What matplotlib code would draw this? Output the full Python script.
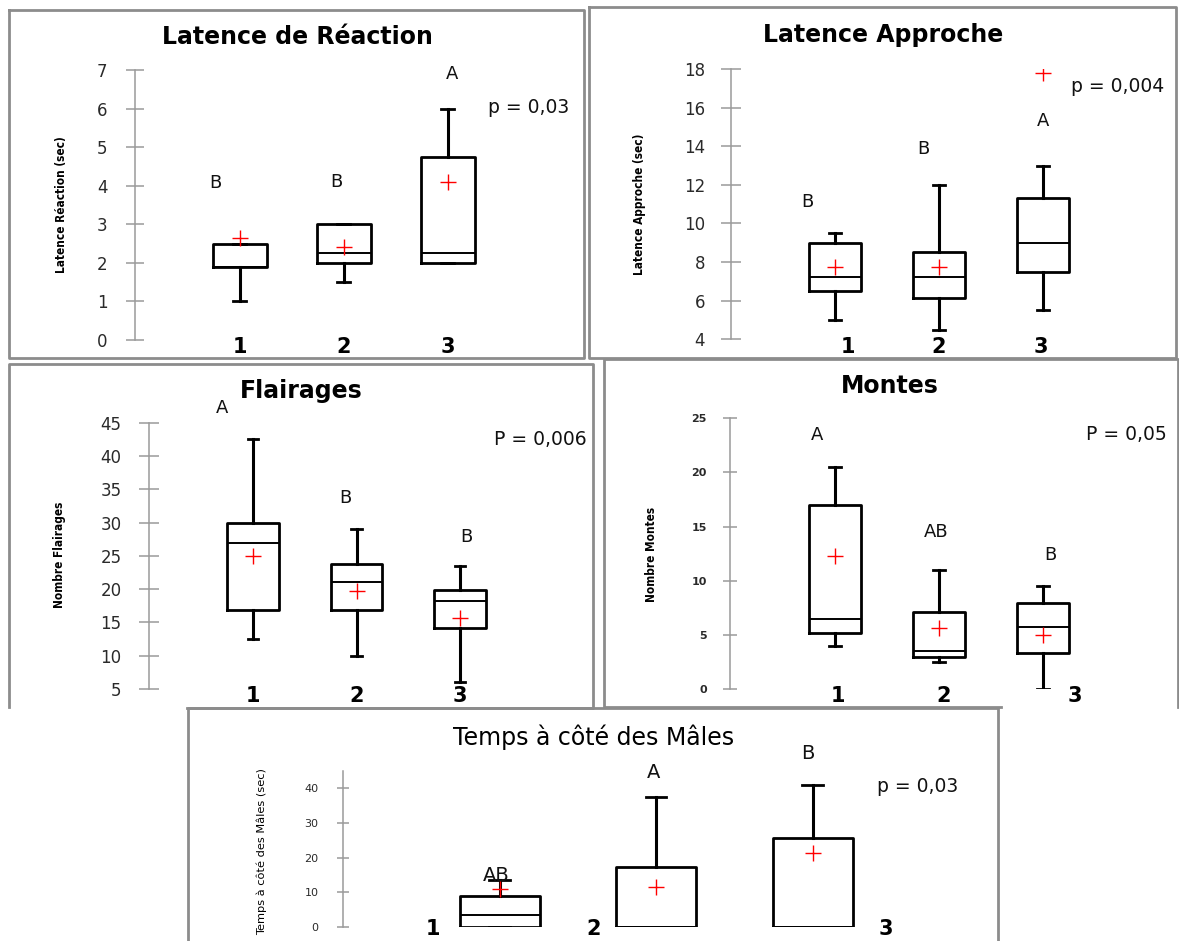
import matplotlib
matplotlib.use('Agg')
import matplotlib.pyplot as plt
from matplotlib.lines import Line2D

# ---- data ----
groups = ['1', '2', '3']

# Latence de Réaction
react_low = [1.0, 1.5, 2.0]
react_q1 = [1.9, 2.0, 2.0]
react_med = [1.9, 2.25, 2.25]
react_q3 = [2.5, 3.0, 4.75]
react_high = [2.5, 3.0, 6.0]
react_mean = [2.65, 2.4, 4.1]
react_letters = ['B', 'B', 'A']

# Latence Approche
appr_low = [5.0, 4.5, 5.5]
appr_q1 = [6.5, 6.15, 7.5]
appr_med = [7.25, 7.25, 9.0]
appr_q3 = [9.0, 8.5, 11.3]
appr_high = [9.5, 12.0, 13.0]
appr_mean = [7.75, 7.75, 17.8]
appr_letters = ['B', 'B', 'A']

# Flairages
flair_low = [12.5, 10.0, 6.0]
flair_q1 = [16.9, 16.8, 14.2]
flair_med = [27.0, 21.0, 18.2]
flair_q3 = [30.0, 23.8, 19.8]
flair_high = [42.5, 29.0, 23.5]
flair_mean = [25.0, 19.7, 15.6]
flair_letters = ['A', 'B', 'B']

# Montes
mont_low = [4.0, 2.5, 0.0]
mont_q1 = [5.2, 3.0, 3.3]
mont_med = [6.5, 3.5, 5.7]
mont_q3 = [17.0, 7.1, 7.9]
mont_high = [20.5, 11.0, 9.5]
mont_mean = [12.3, 5.6, 5.0]
mont_letters = ['A', 'AB', 'B']

# Temps à côté des Mâles
temps_low = [0.0, 0.0, 0.0]
temps_q1 = [0.0, 0.0, 0.0]
temps_med = [3.4, 0.0, 0.0]
temps_q3 = [9.0, 17.2, 25.5]
temps_high = [13.6, 37.4, 41.0]
temps_mean = [10.9, 11.6, 21.3]
temps_letters = ['AB', 'A', 'B']

W, H = 1179, 941
fig = plt.figure(figsize=(W / 100, H / 100), dpi=100)
fig.patch.set_facecolor('white')


def fx(x):
    return x / W


def fy(y):
    return 1 - y / H


def stats_of(low, q1, med, q3, high, mean):
    return [dict(whislo=a, q1=b, med=c, q3=d, whishi=e, mean=f, fliers=[])
            for a, b, c, d, e, f in zip(low, q1, med, q3, high, mean)]


def panel(stats, letters, ptext, lay):
    # axes placed from pixel geometry of the original collage
    x0, top, bottom, step = lay['axis_x'], lay['top'], lay['bottom'], lay['step']
    xmin, xmax = lay['xlim']
    width = (xmax - xmin) * step
    ax = fig.add_axes([fx(x0), fy(bottom), width / W, (bottom - top) / H])
    ax.set_facecolor('none')
    ax.bxp(stats, positions=[1, 2, 3], widths=lay['bw'], capwidths=lay['cw'],
           showmeans=True, showfliers=False, manage_ticks=False,
           boxprops=dict(color='black', lw=2),
           whiskerprops=dict(color='black', lw=2.2),
           capprops=dict(color='black', lw=2),
           medianprops=dict(color='black', lw=1.4),
           meanprops=dict(marker='+', markeredgecolor='red', markersize=12,
                          markeredgewidth=1))
    ax.set_xlim(xmin, xmax)
    ax.set_ylim(*lay['ylim'])
    ax.set_yticks(lay['yticks'])
    for s in ['top', 'right', 'bottom']:
        ax.spines[s].set_visible(False)
    ax.spines['left'].set_color('#9a9a9a')
    ax.spines['left'].set_linewidth(1.1)
    ax.tick_params(axis='y', direction='inout', length=lay['tl'], width=1.1,
                   color='#9a9a9a', labelsize=lay['ls'], labelcolor='#2a2a2a',
                   pad=lay['pad'])
    if lay.get('tick_bold'):
        for t in ax.get_yticklabels():
            t.set_fontweight('bold')
    ax.set_xticks(lay['xt'])
    ax.set_xticklabels(groups, fontweight='bold', fontsize=15)
    ax.tick_params(axis='x', length=0, pad=lay.get('xpad', -2))
    for (tx, ty), s in zip(lay['letters'], letters):
        ax.text(tx, ty, s, ha='center', va='center', fontsize=lay['lfs'],
                color='#111111', clip_on=False)
    ax.text(lay['p'][0], lay['p'][1], ptext, ha='center', va='center',
            fontsize=13.5, color='#111111', clip_on=False)
    fig.text(fx(lay['title'][0]), fy(lay['title'][1]), lay['title_txt'],
             ha='center', va='center', fontsize=lay.get('tfs', 17),
             fontweight=lay.get('tw', 'bold'))
    fig.text(fx(lay['ylab'][0]), fy(lay['ylab'][1]), lay['ylab_txt'],
             rotation=90, ha='center', va='center', fontsize=lay['yfs'],
             family='DejaVu Sans', fontstretch=lay.get('ystretch', 'condensed'),
             fontweight=lay.get('yw', 'bold'))
    return ax


panel(stats_of(react_low, react_q1, react_med, react_q3, react_high, react_mean),
      react_letters, 'p = 0,03',
      dict(axis_x=134.6, top=70, bottom=340, step=104, xlim=(-0.01, 4.3),
           ylim=(0, 7), yticks=range(0, 8), bw=0.52, cw=0.125, tl=13, pad=13,
           ls=12, xt=[1, 2, 3], lfs=13,
           letters=[(0.77, 4.08), (1.93, 4.1), (3.04, 6.9)], p=(3.78, 6.03),
           title=(297, 37), title_txt='Latence de Réaction',
           ylab=(61, 205), ylab_txt='Latence Réaction (sec)', yfs=8.5))

panel(stats_of(appr_low, appr_q1, appr_med, appr_q3, appr_high, appr_mean),
      appr_letters, 'p = 0,004',
      dict(axis_x=731.4, top=69, bottom=339.3, step=104, xlim=(0.004, 4.3),
           ylim=(4, 18), yticks=range(4, 19, 2), bw=0.5, cw=0.12, tl=14, pad=12,
           ls=12, xt=[1.12, 2.0, 2.98], lfs=13,
           letters=[(0.73, 11.13), (1.85, 13.85), (3.0, 15.3)], p=(3.72, 17.08),
           title=(883, 35), title_txt='Latence Approche',
           ylab=(640, 204), ylab_txt='Latence Approche (sec)', yfs=8.5))

panel(stats_of(flair_low, flair_q1, flair_med, flair_q3, flair_high, flair_mean),
      flair_letters, 'P = 0,006',
      dict(axis_x=148.6, top=422.7, bottom=689, step=103.5, xlim=(-0.009, 4.3),
           ylim=(5, 45), yticks=range(5, 46, 5), bw=0.5, cw=0.105, tl=15, pad=12,
           ls=12, xt=[1, 2, 3], lfs=13,
           letters=[(0.70, 47.2), (1.89, 33.7), (3.06, 27.9)], p=(3.78, 42.5),
           title=(301, 391), title_txt='Flairages',
           ylab=(60, 555), ylab_txt='Nombre Flairages', yfs=8.5))

panel(stats_of(mont_low, mont_q1, mont_med, mont_q3, mont_high, mont_mean),
      mont_letters, 'P = 0,05',
      dict(axis_x=729.6, top=418.3, bottom=689, step=104, xlim=(-0.018, 4.2),
           ylim=(0, 25), yticks=range(0, 26, 5), bw=0.5, cw=0.115, tl=9.5,
           pad=11.6, ls=8, tick_bold=True, xt=[1.02, 2.04, 3.3], lfs=13,
           letters=[(0.82, 23.45), (1.97, 14.5), (3.07, 12.37)], p=(3.8, 23.5),
           title=(890, 386), title_txt='Montes',
           ylab=(652, 554), ylab_txt='Nombre Montes', yfs=8.5))

panel(stats_of(temps_low, temps_q1, temps_med, temps_q3, temps_high, temps_mean),
      temps_letters, 'p = 0,03',
      dict(axis_x=342.7, top=771, bottom=927, step=156.5, xlim=(-0.003, 4.0),
           ylim=(0, 44.9), yticks=range(0, 41, 10), bw=0.51, cw=0.13, tl=9,
           pad=13, ls=8, xt=[0.574, 1.6, 3.47], lfs=14, xpad=-6,
           letters=[(0.98, 14.7), (1.98, 44.5), (2.97, 49.8)], p=(3.67, 40.4),
           title=(594, 737), title_txt='Temps à côté des Mâles', tw='normal',
           tfs=17, ylab=(262, 852),
           ylab_txt='Temps à côté des Mâles (sec)', yfs=8.2,
           ystretch='normal', yw='normal'))

# gray frames around each pasted chart
frames = [
    [(9.4, 10), (584, 10), (584, 358), (9.4, 358), (9.4, 10)],
    [(589, 7.3), (1176, 7.3), (1176, 358), (589, 358), (589, 7.3)],
    [(187, 708), (593.4, 708), (593.4, 364), (8.5, 364), (8.5, 707)],
    [(1001, 707), (603.7, 707), (603.7, 359), (1177.8, 359), (1177.8, 707)],
    [(187.7, 950), (187.7, 708), (998, 708), (998, 950)],
]
for pts in frames:
    xs = [fx(p[0]) for p in pts]
    ys = [fy(p[1]) for p in pts]
    fig.add_artist(Line2D(xs, ys, transform=fig.transFigure,
                          color='#8c8c8c', lw=2))

fig.savefig('out.png', dpi=100)
